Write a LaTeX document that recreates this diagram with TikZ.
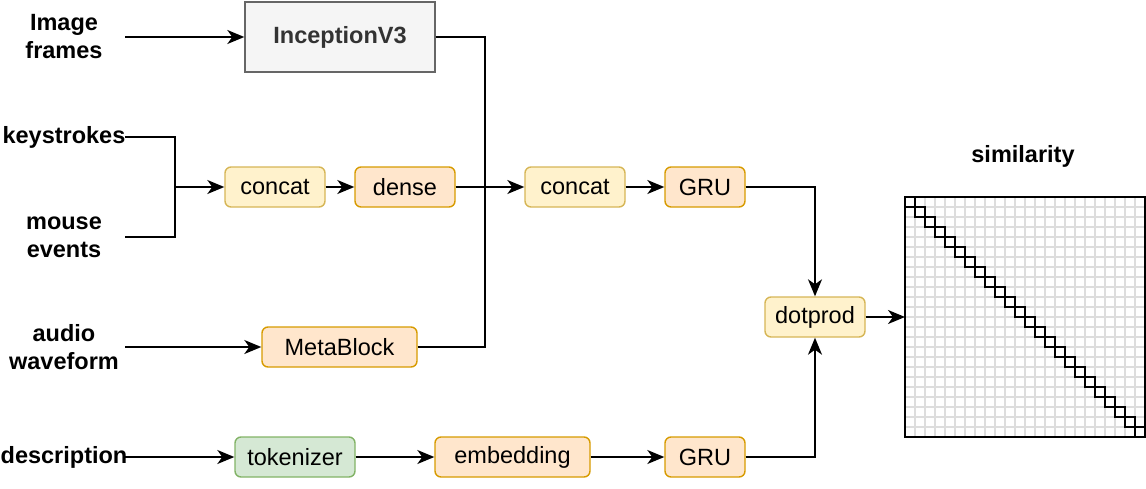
\documentclass[tikz,border=0pt]{standalone}
\usepackage{fontspec}
\setmainfont{Liberation Sans}
\usetikzlibrary{arrows.meta,calc}
\definecolor{yfill}{HTML}{FFF2CC}
\definecolor{ydraw}{HTML}{D6B656}
\definecolor{ofill}{HTML}{FFE6CC}
\definecolor{odraw}{HTML}{D79B00}
\definecolor{gfill}{HTML}{D5E8D4}
\definecolor{gdraw}{HTML}{82B366}
\definecolor{greyfill}{HTML}{F5F5F5}
\definecolor{greydraw}{HTML}{666666}
\definecolor{greytext}{HTML}{333333}
\definecolor{gridc}{HTML}{DDDDDD}
\tikzset{
  box/.style={draw, rounded corners=6pt, line width=1.4pt, minimum height=40pt, inner sep=0pt,
    font=\fontsize{23.5}{28}\selectfont},
  ybox/.style={box, fill=yfill, draw=ydraw},
  obox/.style={box, fill=ofill, draw=odraw},
  gbox/.style={box, fill=gfill, draw=gdraw},
  lbl/.style={minimum width=122pt, inner sep=0pt, align=center,
    font=\fontsize{23.5}{28}\selectfont\bfseries},
  arr/.style={line width=1.7pt, -{Stealth[length=17pt,width=14pt,inset=5pt]}},
  ln/.style={line width=1.7pt},
}
\begin{document}
\begin{tikzpicture}[x=1pt,y=-1pt]
\path[use as bounding box] (0,0) rectangle (1146,488);

% labels
\node[lbl] (lImg) at (64,37) {Image\\frames};
\node[lbl] (lKey) at (64,137) {\makebox[122pt]{keystrokes}};
\node[lbl] (lMouse) at (64,237) {mouse\\events};
\node[lbl] (lAudio) at (64,347) {audio\\waveform};
\node[lbl] (lDesc) at (64,457) {\makebox[122pt]{description}};
\node[lbl] (lSim) at (1023,156) {similarity};

% boxes
\node[box, fill=greyfill, draw=greydraw, rounded corners=0pt, text=greytext, font=\fontsize{23.5}{28}\selectfont\bfseries,
  minimum width=190pt, minimum height=70pt] (incep) at (340,37) {InceptionV3};
\node[ybox, minimum width=100pt] (cat1) at (275,187) {concat};
\node[obox, minimum width=100pt] (dense) at (405,187) {dense};
\node[ybox, minimum width=100pt] (cat2) at (575,187) {concat};
\node[obox, minimum width=80pt] (gru1) at (705,187) {GRU};
\node[obox, minimum width=155pt] (meta) at (339.5,347) {MetaBlock};
\node[gbox, minimum width=120pt] (tok) at (295,457) {tokenizer};
\node[obox, minimum width=155pt] (emb) at (512.5,457) {embedding};
\node[obox, minimum width=80pt] (gru2) at (705,457) {GRU};
\node[ybox, minimum width=100pt] (dot) at (815,317) {dotprod};

% similarity matrix
\node[fill=white, outer sep=0pt, minimum width=240pt, minimum height=240pt, inner sep=0pt] (mat) at (1025,317) {};
\foreach \i in {1,...,23} {
  \draw[gridc, line width=1.2pt] (905+10*\i,198) -- (905+10*\i,436);
  \draw[gridc, line width=1.2pt] (906,197+10*\i) -- (1144,197+10*\i);
}
\foreach \i in {0,...,23} {
  \draw[black, line width=1.5pt] (905+10*\i,197+10*\i) rectangle ++(10,10);
}
\draw[line width=1.7pt] (905,197) rectangle (1145,437);

% junctions
\coordinate (j1) at (175,187);
\coordinate (j2) at (485,187);

% connectors
\draw[arr] (lImg.east) -- (incep.west);
\draw[ln] (incep.east) -| (j2);
\draw[ln] (lKey.east) -| (j1);
\draw[ln] (lMouse.east) -| (j1);
\draw[arr] (j1) -- (cat1.west);
\draw[arr] (cat1.east) -- (dense.west);
\draw[ln] (meta.east) -| (j2);
\draw[arr] (dense.east) -- (cat2.west);
\draw[arr] (cat2.east) -- (gru1.west);
\draw[arr] (lAudio.east) -- (meta.west);
\draw[arr] (lDesc.east) -- (tok.west);
\draw[arr] (tok.east) -- (emb.west);
\draw[arr] (emb.east) -- (gru2.west);
\draw[arr] (gru1.east) -| (dot.north);
\draw[arr] (gru2.east) -| (dot.south);
\draw[arr] (dot.east) -- (mat.west);
\end{tikzpicture}
\end{document}
